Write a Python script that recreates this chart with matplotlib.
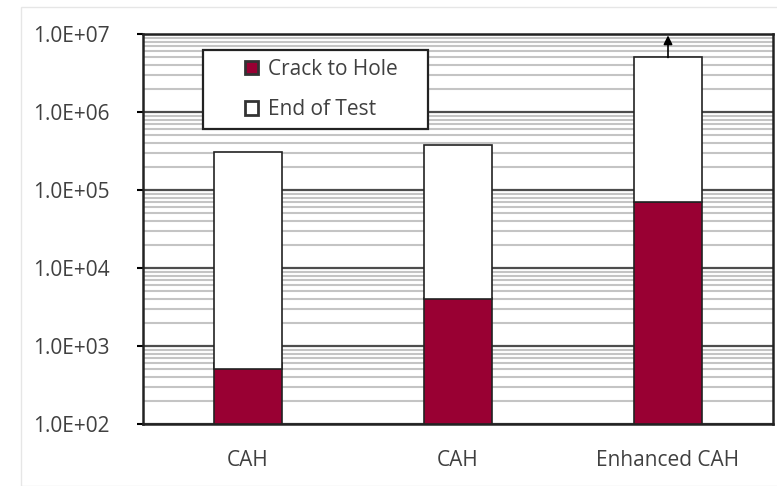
import math
import matplotlib.pyplot as plt
from matplotlib.patches import Rectangle
from matplotlib.ticker import FixedLocator, NullFormatter, FuncFormatter

categories = ["CAH", "CAH", "Enhanced CAH"]
crack_to_hole = [500, 4000, 70000]
end_of_test = [310000, 380000, 5000000]
runout = [False, False, True]

red = "#990033"
text_color = "#404040"
fs = 15

plt.rcParams["font.family"] = ["Open Sans", "DejaVu Sans"]

fig = plt.figure(figsize=(7.77, 4.86), dpi=100)
fig.patches.append(Rectangle((21 / 777, 0.0), 1.0, 1 - 7 / 486, transform=fig.transFigure,
                             fill=False, edgecolor="#e6e6e6", linewidth=1.0, zorder=0))
ax = fig.add_axes([143 / 777, 62 / 486, 630 / 777, 390 / 486])

ax.set_yscale("log")
ax.set_ylim(1e2, 1e7)
ax.set_xlim(-0.5, 2.5)

x = list(range(len(categories)))
width = 0.32
ax.bar(x, crack_to_hole, width=width, bottom=1e2, color=red, edgecolor="#222222",
       linewidth=1.2, zorder=3, label="Crack to Hole")
ax.bar(x, [e - c for e, c in zip(end_of_test, crack_to_hole)], width=width,
       bottom=crack_to_hole, color="white", edgecolor="#222222", linewidth=1.2,
       zorder=3, label="End of Test")

# run-out arrow above the unfailed specimen
for xi, top, ro in zip(x, end_of_test, runout):
    if ro:
        ax.annotate("", xy=(xi, 9.6e6), xytext=(xi, top),
                    arrowprops=dict(arrowstyle="-|>", color="black", lw=1.2,
                                    mutation_scale=13, shrinkA=0, shrinkB=0),
                    zorder=4)

majors = [1e2, 1e3, 1e4, 1e5, 1e6, 1e7]
minors = [m * 10 ** d for d in range(2, 7) for m in range(2, 10)]
ax.yaxis.set_major_locator(FixedLocator(majors))
ax.yaxis.set_minor_locator(FixedLocator(minors))
ax.yaxis.set_minor_formatter(NullFormatter())
ax.yaxis.set_major_formatter(FuncFormatter(lambda v, p: "1.0E+%02d" % round(math.log10(v))))
ax.grid(True, which="major", axis="y", color="#4d4d4d", linewidth=1.6, zorder=1)
ax.grid(True, which="minor", axis="y", color="#c4c4c4", linewidth=1.5, zorder=1)
ax.set_axisbelow(True)

ax.set_xticks(x)
ax.set_xticklabels(categories)
ax.tick_params(axis="x", length=0, pad=19, labelsize=fs, labelcolor=text_color)
ax.tick_params(axis="y", which="major", length=4, width=1.5, labelsize=fs,
               labelcolor=text_color, pad=75)
ax.tick_params(axis="y", which="minor", length=0)
for lbl in ax.get_yticklabels():
    lbl.set_horizontalalignment("left")

for s in ax.spines.values():
    s.set_color("#222222")
    s.set_linewidth(1.8)

# legend frame drawn as its own box; entries placed inside it
ax.add_patch(Rectangle((60 / 630, 1 - 95 / 390), 225 / 630, 79 / 390, transform=ax.transAxes,
                       facecolor="white", edgecolor="#222222", linewidth=1.6, zorder=5,
                       clip_on=False))
leg = ax.legend(loc="center left", bbox_to_anchor=(102 / 630, (424 - 89.5) / 390),
                fontsize=fs, frameon=False, handlelength=0.62, handleheight=0.62,
                handletextpad=0.5, borderpad=0, labelspacing=0.95, borderaxespad=0)
leg.set_zorder(6)
for t in leg.get_texts():
    t.set_color(text_color)
for h in leg.legend_handles:
    h.set_linewidth(2.0)
    h.set_edgecolor("#333333")

fig.savefig("out.png", dpi=100)
